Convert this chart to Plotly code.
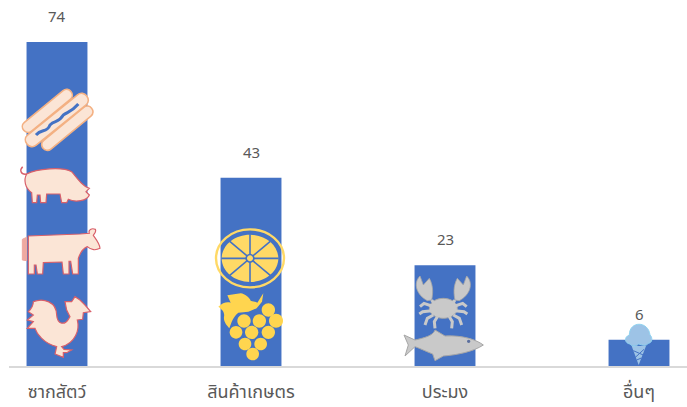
import re, math
import plotly.graph_objects as go

categories = ["ซากสัตว์", "สินค้าเกษตร", "ประมง", "อื่นๆ"]
values = [74, 43, 23, 6]
positions = [0, 1, 2, 3]

BAR = "#4472C4"
TEXT = "#595959"
AXIS = "#D9D9D9"
PEACH = "#FBE5D6"
RED = "#D9606A"
ORANGE = "#F4B183"
YEL = "#FFD966"
GRAY = "#C9C9C9"
GRAYL = "#A6A6A6"
BLUEL = "#9DC3E6"

CX = [57, 251, 445, 639]
BASE = 366
shapes = []


def local(s, idx, ox=0, oy=0):
    """path written in 3x zoom coordinates -> pixels around bar anchor (y up)"""
    out, k = [], 0
    for t in re.findall(r"[A-Za-z]|-?\d+\.?\d*", s):
        if t.isalpha():
            out.append(t)
            k = 0
        else:
            v = float(t) / 3
            if k % 2 == 0:
                out.append(f"{v + ox - CX[idx]:.2f}")
            else:
                out.append(f"{BASE - (v + oy):.2f}")
            k += 1
    return " ".join(out)


def add(s, idx, fill=None, line=None, w=1.0, ox=0, oy=0):
    shapes.append(dict(
        type="path", path=local(s, idx, ox, oy), xsizemode="pixel", ysizemode="pixel",
        xanchor=positions[idx], yanchor=0, xref="x", yref="y", layer="above",
        fillcolor=fill or "rgba(0,0,0,0)",
        line=dict(color=line or "rgba(0,0,0,0)", width=w if line else 0),
    ))


def ell(cx, cy, rx, ry=None):
    ry = ry or rx
    k = 0.5523
    return (f"M {cx-rx} {cy} C {cx-rx} {cy-k*ry} {cx-k*rx} {cy-ry} {cx} {cy-ry} "
            f"C {cx+k*rx} {cy-ry} {cx+rx} {cy-k*ry} {cx+rx} {cy} "
            f"C {cx+rx} {cy+k*ry} {cx+k*rx} {cy+ry} {cx} {cy+ry} "
            f"C {cx-k*rx} {cy+ry} {cx-rx} {cy+k*ry} {cx-rx} {cy} Z")


def capsule(x0, y0, x1, y1, r):
    L = math.hypot(x1 - x0, y1 - y0)
    ux, uy = (x1 - x0) / L, (y1 - y0) / L
    nx, ny = -uy * r, ux * r
    e = 1.3 * r
    return (f"M {x0+nx:.1f} {y0+ny:.1f} L {x1+nx:.1f} {y1+ny:.1f} "
            f"C {x1+nx+ux*e:.1f} {y1+ny+uy*e:.1f} {x1-nx+ux*e:.1f} {y1-ny+uy*e:.1f} {x1-nx:.1f} {y1-ny:.1f} "
            f"L {x0-nx:.1f} {y0-ny:.1f} "
            f"C {x0-nx-ux*e:.1f} {y0-ny-uy*e:.1f} {x0+nx-ux*e:.1f} {y0+ny-uy*e:.1f} {x0+nx:.1f} {y0+ny:.1f} Z")


# ---- hot dog
add(capsule(84, 380, 200, 285, 17), 0, PEACH, ORANGE, 1.6)
add(capsule(142, 434, 262, 335, 17), 0, PEACH, ORANGE, 1.6)
add(capsule(96, 420, 245, 300, 20), 0, PEACH, ORANGE, 1.6)
add("M 108 405 C 125 385 140 400 150 375 C 165 360 175 370 190 345 C 205 335 215 335 235 312",
    0, None, BAR, 3)

# ---- pig
add("M 80 522 C 62 525 58 510 68 500", 0, None, RED, 1.5)
add("M 80 522 C 110 505 190 500 215 515 C 235 540 250 560 268 565 L 258 575 L 268 585 "
    "C 262 603 225 608 205 598 L 200 608 L 185 608 L 180 582 L 140 582 L 138 608 L 122 608 "
    "L 120 585 L 112 585 L 110 608 L 97 608 L 95 578 C 75 565 70 540 80 522 Z", 0, PEACH, RED, 1.2)

# ---- cow
add("M 67 718 L 80 712 L 80 782 L 67 780 Z", 0, "#EFA9A0", "#EFA9A0", 1)
add("M 85 708 L 240 702 L 268 700 C 264 690 275 683 286 688 C 290 696 282 702 280 706 "
    "C 290 720 300 733 300 745 C 285 752 270 748 262 740 C 250 745 240 760 235 775 L 235 822 "
    "L 218 822 L 212 784 L 207 784 L 207 822 L 190 822 L 186 786 L 130 788 L 128 822 L 112 822 "
    "L 108 795 L 103 795 L 103 822 L 85 822 Z", 0, PEACH, RED, 1.2)

# ---- rooster
add("M 100 905 C 130 893 170 905 170 945 C 172 975 195 975 205 958 L 210 950 L 200 930 L 195 905 "
    "L 215 905 L 225 890 L 240 900 L 255 915 L 272 935 L 250 938 L 248 958 L 232 960 "
    "C 240 990 225 1030 185 1040 L 192 1048 L 215 1050 L 200 1058 L 190 1058 L 190 1072 L 165 1062 "
    "L 170 1040 C 130 1030 110 1000 105 985 L 82 985 L 100 965 L 82 960 L 100 945 L 85 935 "
    "C 95 925 100 915 100 905 Z", 0, PEACH, RED, 1.2)

# ---- citrus
add(ell(750, 775, 102, 87), 1, None, YEL, 2.4)
add(ell(750, 775, 85, 71), 1, YEL)
for a in range(0, 180, 45):
    dx, dy = 86 * math.cos(math.radians(a)), 72 * math.sin(math.radians(a))
    add(f"M {750-dx:.1f} {775-dy:.1f} L {750+dx:.1f} {775+dy:.1f}", 1, None, BAR, 1.6)
add(ell(750, 775, 14), 1, BAR)
add(ell(750, 775, 9), 1, YEL)

# ---- grapes
GR = "#FFD54F"
add("M 655 920 C 668 908 680 905 692 908 L 682 886 L 722 880 C 735 882 748 892 752 902 "
    "C 760 905 768 905 772 908 L 790 880 L 786 905 L 770 925 L 745 935 L 715 938 "
    "C 700 950 695 965 688 985 C 680 975 670 965 672 950 C 675 935 665 928 655 920 Z", 1, GR)
for cx, cy, r in [(805, 930, 20), (732, 963, 20), (778, 963, 20), (828, 962, 21), (708, 997, 19),
                  (755, 997, 20), (805, 997, 20), (735, 1032, 19), (782, 1032, 19), (758, 1062, 19)]:
    add(ell(cx, cy, r), 1, GR)

# ---- crab (second zoom offset)
Z2 = dict(ox=200, oy=130)
add(ell(730, 535, 42, 30), 2, GRAY, GRAYL, 1, **Z2)
for sign in (1, -1):
    X = (lambda x: 730 + sign * (x - 730))
    add(f"M {X(682)} 512 C {X(650)} 495 {X(638)} 460 {X(660)} 438 L {X(670)} 465 L {X(688)} 445 "
        f"C {X(702)} 470 {X(698)} 495 {X(695)} 510 Z", 2, GRAY, GRAYL, 0.8, **Z2)
    add(f"M {X(695)} 510 L {X(705)} 525", 2, None, GRAY, 3, **Z2)
    add(f"M {X(695)} 528 L {X(672)} 520 L {X(660)} 530", 2, None, GRAY, 3, **Z2)
    add(f"M {X(695)} 542 L {X(668)} 545 L {X(658)} 552", 2, None, GRAY, 3, **Z2)
    add(f"M {X(700)} 555 L {X(682)} 565 L {X(675)} 585", 2, None, GRAY, 3, **Z2)
    add(f"M {X(712)} 560 L {X(703)} 575 L {X(705)} 595", 2, None, GRAY, 3, **Z2)

# ---- fish
add("M 612 615 L 645 630 C 690 620 700 612 705 600 L 735 618 C 790 615 830 630 850 645 "
    "C 820 665 770 675 730 678 L 705 692 L 698 672 C 680 665 660 655 645 650 L 615 678 L 625 645 Z",
    2, GRAY, GRAYL, 1, **Z2)
add(ell(806, 634, 5), 2, "#5B6F9E", **Z2)

# ---- ice cream (third zoom offset)
Z3 = dict(ox=480, oy=280)
add("M 455 198 L 498 198 L 476 255 Z", 3, BLUEL, None, **Z3)
add("M 460 212 L 492 226", 3, None, BAR, 1, **Z3)
add("M 492 208 L 466 232", 3, None, BAR, 1, **Z3)
add("M 470 240 L 484 234", 3, None, BAR, 1, **Z3)
add("M 448 165 C 448 122 505 122 510 165 C 518 172 518 188 505 190 C 498 200 485 195 476 192 "
    "C 468 200 455 200 450 192 C 435 190 430 172 448 165 Z", 3, BLUEL, "#8FD3F0", 1, **Z3)

fig = go.Figure(go.Bar(x=positions, y=values, width=0.314, marker=dict(color=BAR, line=dict(width=0)),
                       hoverinfo="skip"))

annotations = [dict(x=x, y=v, text=str(v), showarrow=False, yshift=26, yanchor="middle",
                    font=dict(family="Noto Sans, Open Sans, sans-serif", size=15, color=TEXT))
               for x, v in zip(positions, values)]

fig.update_layout(
    width=687, height=407, margin=dict(l=9, r=0, t=0, b=41, autoexpand=False),
    paper_bgcolor="white", plot_bgcolor="white", showlegend=False,
    shapes=shapes, annotations=annotations,
    xaxis=dict(range=[-0.2474, 3.2474], tickmode="array", tickvals=positions, ticktext=categories,
               showgrid=False, zeroline=False, showline=True, linecolor=AXIS, linewidth=1.5, ticks="",
               ticklabelstandoff=9, automargin=False,
               tickfont=dict(family="Noto Sans Thai, Noto Sans, Liberation Sans, sans-serif", size=18, color=TEXT)),
    yaxis=dict(range=[0, 83.6], visible=False, showgrid=False, zeroline=False),
)
fig.write_html("out.html", config=dict(displayModeBar=False),
               post_script="document.body.style.margin='0';document.documentElement.style.overflow='hidden';")
